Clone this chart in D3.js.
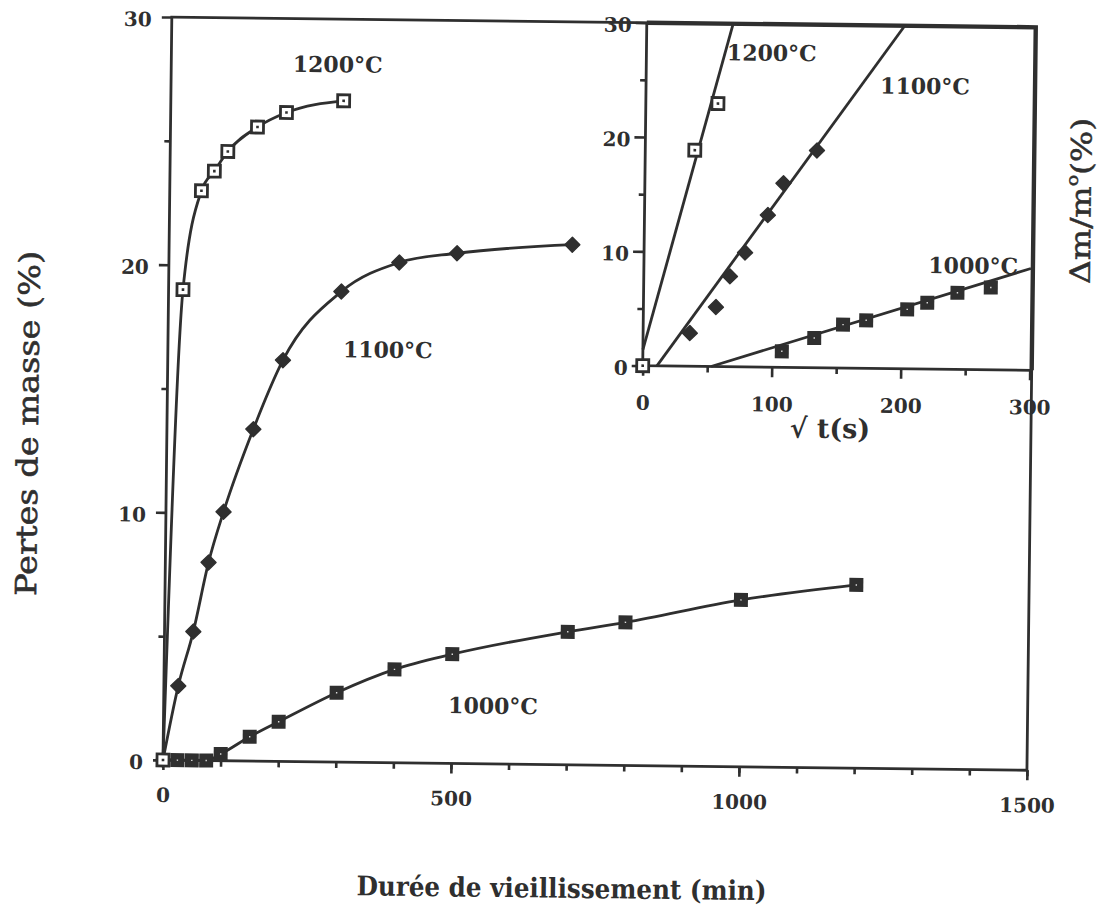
<!DOCTYPE html>
<html><head><meta charset="utf-8">
<script src="https://cdn.jsdelivr.net/npm/d3@7"></script>
<style>body{margin:0;background:#fff}svg{display:block}</style>
</head><body><svg id="c" width="1106" height="918"></svg>
<script>
// ---------- data (main chart: time in min, mass loss in %) ----------
const time1200 = [0, 25, 55, 77, 100, 151, 201, 300];
const loss1200 = [0, 19.0, 23.0, 23.8, 24.6, 25.6, 26.2, 26.7];
const time1100 = [0, 25, 50, 75, 100, 150, 200, 300, 400, 500, 700];
const loss1100 = [0, 3.0, 5.2, 8.0, 10.05, 13.4, 16.2, 19.0, 20.2, 20.6, 21.0];
const time1000 = [0, 25, 50, 75, 100, 150, 200, 300, 400, 500, 700, 800, 1000, 1200];
const loss1000 = [0, 0, 0, 0, 0.27, 0.98, 1.6, 2.8, 3.77, 4.41, 5.37, 5.78, 6.74, 7.4];
// ---------- data (inset: sqrt(t[s]) vs dm/m0 %) ----------
const sqrt1200 = [0, 38.4, 55.9];
const dm1200 = [0, 18.9, 23.0];
const sqrt1100 = [36.2, 56.2, 66.8, 78.3, 95.6, 107.4, 133.1];
const dm1100 = [2.9, 5.2, 7.9, 10.0, 13.3, 16.1, 19.0];
const sqrt1000 = [107.7, 132.7, 154.9, 172.8, 204.5, 220, 243.3, 269.1];
const dm1000 = [1.4, 2.6, 3.8, 4.2, 5.2, 5.8, 6.7, 7.2];
const fit1200X = [0, 67], fit1200Y = [1.4, 30];
const fit1100X = [11, 200], fit1100Y = [0, 30];
const fit1000X = [53, 300], fit1000Y = [0, 8.9];
// ---------- ticks & labels ----------
const mainXTicks = [0, 500, 1000, 1500];
const mainXMinor = d3.range(0, 1501, 100);
const mainYTicks = [0, 10, 20, 30];
const mainYMinor = [5, 15, 25];
const insetXTicks = [0, 100, 200, 300];
const insetXMinor = [50, 150, 250];
const insetYTicks = [0, 10, 20, 30];
const insetYMinor = [5, 15, 25];
const seriesNames = ["1200°C", "1100°C", "1000°C"];
const xTitle = "Durée de vieillissement (min)";
const yTitle = "Pertes de masse (%)";
const insetXTitle = "√ t(s)";

const INK = "#2f2f2f";
const FONT = "'DejaVu Serif', 'Liberation Serif', serif";
const svg = d3.select("#c");
svg.append("rect").attr("width", 1106).attr("height", 918).attr("fill", "#fff");
// scanned page is slightly rotated
const root = svg.append("g").attr("transform", "rotate(0.68,163,760)");

const x = d3.scaleLinear().domain([0, 1500]).range([163, 1027]);
const y = d3.scaleLinear().domain([0, 30]).range([760, 17]);
const xi = d3.scaleLinear().domain([0, 300]).range([638, 1025]);
const yi = d3.scaleLinear().domain([0, 30]).range([360, 17]);

function styleAxis(g, fs) {
  g.select(".domain").remove();
  g.selectAll("line").attr("stroke", INK).attr("stroke-width", 2.6);
  g.selectAll("text").attr("fill", INK).attr("font-family", FONT)
    .attr("font-weight", "bold").attr("font-size", fs);
}
// main axes
root.append("g").attr("transform", "translate(0,760)")
  .call(d3.axisBottom(x).tickValues(mainXMinor).tickSize(6).tickFormat(""))
  .call(g => styleAxis(g, 20));
root.append("g").attr("transform", "translate(0,760)")
  .call(d3.axisBottom(x).tickValues(mainXTicks).tickSize(10).tickPadding(18).tickFormat(d3.format("d")))
  .call(g => styleAxis(g, 20));
root.append("g").attr("transform", "translate(163,0)")
  .call(d3.axisLeft(y).tickValues(mainYMinor).tickSize(6).tickFormat(""))
  .call(g => styleAxis(g, 20));
root.append("g").attr("transform", "translate(163,0)")
  .call(d3.axisLeft(y).tickValues(mainYTicks).tickSize(10).tickPadding(10).tickFormat(d3.format("d")))
  .call(g => { styleAxis(g, 20); g.selectAll("text").attr("dy", "0.45em"); });

// main frame
const frame = root.append("g").attr("stroke", INK).attr("fill", "none");
frame.append("path").attr("stroke-width", 2.8)
  .attr("d", `M${x(0)},${y(30)}V${y(0)}H${x(1500)}V${y(30)}Z`);

// curves
const line = d3.line().curve(d3.curveMonotoneX).x(d => x(d[0])).y(d => y(d[1]));
const mainSeries = [
  d3.zip(time1200, loss1200),
  d3.zip(time1100, loss1100),
  d3.zip(time1000, loss1000)
];
mainSeries.forEach(s => {
  root.append("path").attr("d", line(s)).attr("fill", "none")
    .attr("stroke", INK).attr("stroke-width", 2.8).attr("stroke-linejoin", "round");
});

// markers
function openSquare(g, cx, cy) {
  g.append("rect").attr("x", cx - 6).attr("y", cy - 6).attr("width", 12).attr("height", 12)
    .attr("fill", "#fff").attr("stroke", INK).attr("stroke-width", 2.8);
  g.append("rect").attr("x", cx - 1.3).attr("y", cy - 1.3).attr("width", 2.6).attr("height", 2.6).attr("fill", INK);
}
function diamond(g, cx, cy) {
  const r = 7.5;
  g.append("path").attr("d", `M${cx},${cy - r}L${cx + r},${cy}L${cx},${cy + r}L${cx - r},${cy}Z`)
    .attr("fill", INK).attr("stroke", INK).attr("stroke-width", 1.4).attr("stroke-linejoin", "round");
}
function filledSquare(g, cx, cy) {
  g.append("rect").attr("x", cx - 7).attr("y", cy - 7).attr("width", 14).attr("height", 14).attr("fill", INK);
  g.append("rect").attr("x", cx - 0.7).attr("y", cy - 0.7).attr("width", 1.4).attr("height", 1.4).attr("fill", "#ddd");
}
const mk = root.append("g");
d3.zip(time1000, loss1000).forEach(d => filledSquare(mk, x(d[0]), y(d[1])));
d3.zip(time1100, loss1100).forEach(d => diamond(mk, x(d[0]), y(d[1])));
d3.zip(time1200, loss1200).forEach(d => openSquare(mk, x(d[0]), y(d[1])));

// series labels (main)
function lbl(g, tx, ty, text, fs) {
  g.append("text").attr("x", tx).attr("y", ty).text(text)
    .attr("font-family", FONT).attr("font-weight", "bold").attr("font-size", fs).attr("fill", INK);
}
lbl(root, x(211), y(27.85), seriesNames[0], 22);
lbl(root, x(304), y(16.35), seriesNames[1], 22);
lbl(root, x(494), y(2.03), seriesNames[2], 22);

// ---------- inset ----------
const inset = root.append("g");
inset.append("rect").attr("x", xi(0)).attr("y", yi(30)).attr("width", 1027 - xi(0)).attr("height", yi(0) - yi(30)).attr("fill", "#fff");
inset.append("g").attr("transform", `translate(0,${yi(0)})`)
  .call(d3.axisBottom(xi).tickValues(insetXMinor).tickSize(6).tickFormat(""))
  .call(g => styleAxis(g, 20));
inset.append("g").attr("transform", `translate(0,${yi(0)})`)
  .call(d3.axisBottom(xi).tickValues(insetXTicks).tickSize(10).tickPadding(20).tickFormat(d3.format("d")))
  .call(g => styleAxis(g, 20));
inset.append("g").attr("transform", `translate(${xi(0)},0)`)
  .call(d3.axisLeft(yi).tickValues(insetYMinor).tickSize(6).tickFormat(""))
  .call(g => styleAxis(g, 20));
inset.append("g").attr("transform", `translate(${xi(0)},0)`)
  .call(d3.axisLeft(yi).tickValues(insetYTicks).tickSize(11).tickPadding(4).tickFormat(d3.format("d")))
  .call(g => { styleAxis(g, 20); g.selectAll("text").attr("dy", "0.45em"); });

inset.append("path").attr("fill", "none").attr("stroke", INK).attr("stroke-width", 2.8)
  .attr("d", `M${xi(0)},${yi(30)}V${yi(0)}H1027`);
inset.append("path").attr("fill", "none").attr("stroke", INK).attr("stroke-width", 4.4)
  .attr("stroke-linejoin", "miter")
  .attr("d", `M${xi(0)},${yi(30)}H1027V${yi(0)}`);

const fitLine = d3.line().x(d => xi(d[0])).y(d => yi(d[1]));
[[fit1200X, fit1200Y], [fit1100X, fit1100Y], [fit1000X, fit1000Y]].forEach(([fx, fy]) => {
  inset.append("path").attr("d", fitLine(d3.zip(fx, fy))).attr("fill", "none")
    .attr("stroke", INK).attr("stroke-width", 2.8);
});
const imk = inset.append("g");
d3.zip(sqrt1000, dm1000).forEach(d => filledSquare(imk, xi(d[0]), yi(d[1])));
d3.zip(sqrt1100, dm1100).forEach(d => diamond(imk, xi(d[0]), yi(d[1])));
d3.zip(sqrt1200, dm1200).forEach(d => openSquare(imk, xi(d[0]), yi(d[1])));

lbl(inset, xi(62.4), yi(26.8), seriesNames[0], 22);
lbl(inset, xi(181.5), yi(24.05), seriesNames[1], 22);
lbl(inset, xi(220.5), yi(8.4), seriesNames[2], 22);

// inset titles
inset.append("text").attr("x", 826).attr("y", 430).attr("text-anchor", "middle")
  .attr("font-family", FONT).attr("font-weight", "bold").attr("font-size", 27).attr("fill", INK)
  .text(insetXTitle);
const iyt = inset.append("text").attr("transform", "translate(1084,190) rotate(-90)")
  .attr("text-anchor", "middle").attr("font-family", FONT).attr("font-size", 28).attr("fill", INK)
  .attr("stroke", INK).attr("stroke-width", 0.5)
  .attr("textLength", 166).attr("lengthAdjust", "spacingAndGlyphs");
iyt.append("tspan").text("Δm/m");
iyt.append("tspan").attr("font-size", 16).attr("dy", -13).text("o");
iyt.append("tspan").attr("dy", 13).text("(%)");

// main titles
root.append("text").attr("x", 358).attr("y", 893)
  .attr("font-family", FONT).attr("font-weight", "bold").attr("font-size", 27).attr("fill", INK)
  .attr("textLength", 410).attr("lengthAdjust", "spacingAndGlyphs").text(xTitle);
root.append("text").attr("transform", "translate(34,425) rotate(-90)").attr("text-anchor", "middle")
  .attr("font-family", FONT).attr("font-size", 29).attr("fill", INK)
  .attr("stroke", INK).attr("stroke-width", 0.6)
  .attr("textLength", 345).attr("lengthAdjust", "spacingAndGlyphs").text(yTitle);
</script></body></html>
